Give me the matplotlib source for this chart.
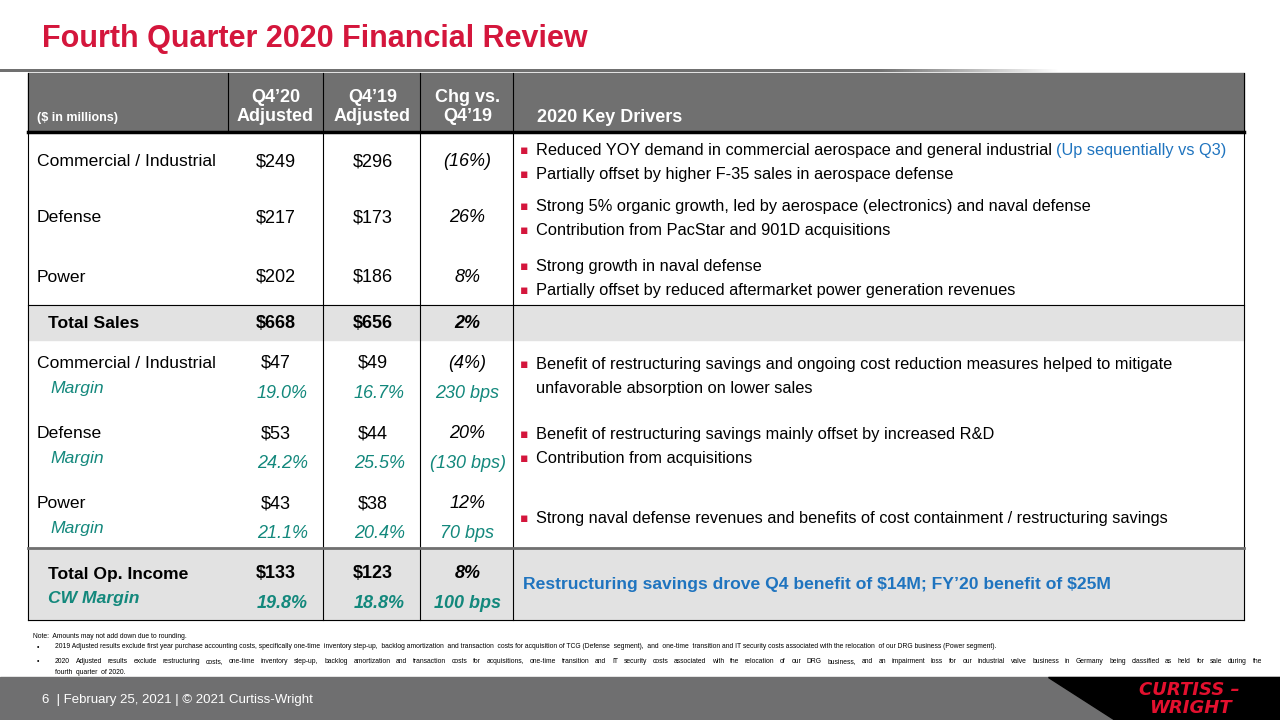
import matplotlib.pyplot as plt
from matplotlib.patches import Rectangle, Polygon
import numpy as np

plt.rcParams['font.family'] = ['Liberation Sans', 'DejaVu Sans']
plt.rcParams['text.parse_math'] = False

# ---- data ----
title = "Fourth Quarter 2020 Financial Review"
units_label = "($ in millions)"
col_headers = ["Q4\u201920\nAdjusted", "Q4\u201919\nAdjusted", "Chg vs.\nQ4\u201919"]
drivers_header = "2020 Key Drivers"

segments = ["Commercial / Industrial", "Defense", "Power"]
sales_q420 = ["$249", "$217", "$202"]
sales_q419 = ["$296", "$173", "$186"]
sales_chg = ["(16%)", "26%", "8%"]
sales_drivers = [
    [("Reduced YOY demand in commercial aerospace and general industrial ", "(Up sequentially vs Q3)"),
     ("Partially offset by higher F-35 sales in aerospace defense", "")],
    [("Strong 5% organic growth, led by aerospace (electronics) and naval defense", ""),
     ("Contribution from PacStar and 901D acquisitions", "")],
    [("Strong growth in naval defense", ""),
     ("Partially offset by reduced aftermarket power generation revenues", "")],
]
total_sales = ["Total Sales", "$668", "$656", "2%"]

oi_q420 = ["$47", "$53", "$43"]
oi_q419 = ["$49", "$44", "$38"]
oi_chg = ["(4%)", "20%", "12%"]
margin_q420 = ["19.0%", "24.2%", "21.1%"]
margin_q419 = ["16.7%", "25.5%", "20.4%"]
margin_chg = ["230 bps", "(130 bps)", "70 bps"]
oi_drivers = [
    ["Benefit of restructuring savings and ongoing cost reduction measures helped to mitigate\nunfavorable absorption on lower sales"],
    ["Benefit of restructuring savings mainly offset by increased R&D", "Contribution from acquisitions"],
    ["Strong naval defense revenues and benefits of cost containment / restructuring savings"],
]
total_oi = ["Total Op. Income", "$133", "$123", "8%"]
total_margin = ["CW Margin", "19.8%", "18.8%", "100 bps"]
total_oi_driver = "Restructuring savings drove Q4 benefit of $14M; FY\u201920 benefit of $25M"

notes = [
    "Note:  Amounts may not add down due to rounding.",
    "2019 Adjusted results exclude first year purchase accounting costs, specifically one-time  inventory step-up,  backlog amortization  and transaction  costs for acquisition of TCG (Defense  segment),  and  one-time  transition and IT security costs associated with the relocation  of our DRG business (Power segment).",
    "2020 Adjusted results exclude restructuring costs, one-time inventory step-up, backlog amortization and transaction costs for acquisitions, one-time transition and IT security costs associated with the relocation of our DRG business, and an impairment loss for our industrial valve business in Germany being classified as held for sale during the",
    "fourth  quarter  of 2020.",
]
footer = "6  | February 25, 2021 | \u00a9 2021 Curtiss-Wright"
logo = ["CURTISS \u2013", "WRIGHT"]

# ---- colours ----
RED = '#d4163c'
HDR = '#707070'
BAND = '#e2e2e2'
TEAL = '#13887c'
BLUE = '#1f74bf'

fig = plt.figure(figsize=(12.8, 7.2), dpi=100)
ax = fig.add_axes([0, 0, 1, 1])
ax.set_xlim(0, 1280)
ax.set_ylim(720, 0)
ax.axis('off')
renderer = fig.canvas.get_renderer()

# title + fading rule
ax.text(42, 39, title, color=RED, fontsize=22, fontweight='bold', va='center', ha='left')
grad = np.ones((1, 400, 4))
grad[..., :3] = 0.44
alpha = np.clip((1060 - np.linspace(0, 1060, 400)) / 180, 0, 1)
grad[..., 3] = alpha
ax.imshow(grad, extent=[0, 1060, 72, 69], aspect='auto', zorder=1)

# table geometry
L, R = 28, 1244
cols = [228, 323, 420, 513]
centers = [(cols[0] + cols[1]) / 2, (cols[1] + cols[2]) / 2 + 1, (cols[2] + cols[3]) / 2 + 1]
hdr_top, hdr_bot = 73, 132
sales_bot, ts_bot, oi_bot, tab_bot = 305, 340, 548, 620

ax.add_patch(Rectangle((L, hdr_top), R - L, hdr_bot - hdr_top, color=HDR, zorder=1))
ax.add_patch(Rectangle((L, sales_bot), R - L, ts_bot - sales_bot, color=BAND, zorder=1))
ax.add_patch(Rectangle((L, oi_bot), R - L, tab_bot - oi_bot, color=BAND, zorder=1))

# grid lines
ax.plot([cols[0], cols[0]], [hdr_top, hdr_bot], color='black', lw=0.8, zorder=2)
for x in cols[1:]:
    ax.plot([x, x], [hdr_top, tab_bot], color='black', lw=0.8, zorder=2)
ax.plot([L, L], [hdr_top, tab_bot], color='black', lw=0.8, zorder=2)
ax.plot([R, R], [hdr_top, tab_bot], color='black', lw=0.8, zorder=2)
ax.plot([L, R], [hdr_bot, hdr_bot], color='black', lw=2.5, zorder=3)
ax.plot([L, R], [sales_bot, sales_bot], color='black', lw=0.8, zorder=3)
ax.plot([L, R], [oi_bot, oi_bot], color=HDR, lw=2, zorder=3)
ax.plot([L, R], [tab_bot, tab_bot], color='black', lw=0.8, zorder=3)

# header text
ax.text(37, 118, units_label, color='white', fontsize=9, fontweight='bold', va='center')
for cx, h in zip(centers, col_headers):
    ax.text(cx, 107, h, color='white', fontsize=13, fontweight='bold', ha='center', va='center',
            linespacing=1.15)
ax.text(537, 118, drivers_header, color='white', fontsize=13, fontweight='bold', va='center')

BODY = 13
LABEL = 12.6
DRV = 11.8


def bullet(x, y, txt, extra=""):
    ax.text(x, y, "\u25aa", color=RED, fontsize=9, va='center', ha='left', family='DejaVu Sans')
    t = ax.text(x + 16, y, txt, color='black', fontsize=DRV, va='center', ha='left')
    if extra:
        ax.annotate(extra, xy=(1, 0), xycoords=t, color=BLUE, fontsize=DRV, va='bottom', ha='left')


# sales rows
sales_y = [162, 218, 277]
for i, y in enumerate(sales_y):
    ax.text(37, y, segments[i], fontsize=LABEL, va='center')
    ax.text(centers[0], y, sales_q420[i], fontsize=BODY, ha='center', va='center')
    ax.text(centers[1], y, sales_q419[i], fontsize=BODY, ha='center', va='center')
    ax.text(centers[2], y, sales_chg[i], fontsize=BODY, ha='center', va='center', style='italic')
    for j, (a, b) in enumerate(sales_drivers[i]):
        bullet(520, y - 11 + 24 * j, a, b)

# total sales
ty = 323
ax.text(48, ty, total_sales[0], fontsize=LABEL, fontweight='bold', va='center')
ax.text(centers[0], ty, total_sales[1], fontsize=BODY, fontweight='bold', ha='center', va='center')
ax.text(centers[1], ty, total_sales[2], fontsize=BODY, fontweight='bold', ha='center', va='center')
ax.text(centers[2], ty, total_sales[3], fontsize=BODY, fontweight='bold', ha='center', va='center',
        style='italic')

# operating income rows
oi_y = [363, 434, 504]
for i, y in enumerate(oi_y):
    ax.text(37, y, segments[i], fontsize=LABEL, va='center')
    ax.text(50, y + 25, "Margin", fontsize=LABEL, va='center', style='italic', color=TEAL)
    ax.text(centers[0], y, oi_q420[i], fontsize=BODY, ha='center', va='center')
    ax.text(centers[1], y, oi_q419[i], fontsize=BODY, ha='center', va='center')
    ax.text(centers[2], y, oi_chg[i], fontsize=BODY, ha='center', va='center', style='italic')
    ax.text(centers[0] + 7, y + 30, margin_q420[i], fontsize=BODY, ha='center', va='center',
            style='italic', color=TEAL)
    ax.text(centers[1] + 7, y + 30, margin_q419[i], fontsize=BODY, ha='center', va='center',
            style='italic', color=TEAL)
    ax.text(centers[2], y + 30, margin_chg[i], fontsize=BODY, ha='center', va='center',
            style='italic', color=TEAL)
drv_y = [[365], [434, 459], [518]]
for i, lines in enumerate(oi_drivers):
    for txt, y in zip(lines, drv_y[i]):
        if "\n" in txt:
            first, second = txt.split("\n")
            bullet(520, y, first)
            ax.text(536, y + 23, second, fontsize=DRV, va='center')
        else:
            bullet(520, y, txt)

# total op income
oy = 574
ax.text(48, oy, total_oi[0], fontsize=LABEL, fontweight='bold', va='center')
ax.text(48, oy + 25, total_margin[0], fontsize=LABEL, fontweight='bold', style='italic', color=TEAL,
        va='center')
for k in range(3):
    ax.text(centers[k], oy - 1, total_oi[k + 1], fontsize=BODY, fontweight='bold', ha='center',
            va='center', style='italic' if k == 2 else 'normal')
    ax.text(centers[k] + (7 if k < 2 else 0), oy + 29, total_margin[k + 1], fontsize=BODY,
            fontweight='bold', ha='center', va='center', style='italic', color=TEAL)
ax.text(523, 585, total_oi_driver, fontsize=12.6, fontweight='bold', color=BLUE, va='center')

# footnotes
NOTE = 4.85


def justified(x0, x1, y, txt, size):
    # spread the words of one line evenly between x0 and x1
    words = txt.split()
    arts = [ax.text(0, y + 2, w, fontsize=size, va='baseline') for w in words]
    inv = ax.transData.inverted()
    widths = []
    for a in arts:
        bb = a.get_window_extent(renderer)
        widths.append(inv.transform((bb.x1, bb.y0))[0] - inv.transform((bb.x0, bb.y0))[0])
    gap = (x1 - x0 - sum(widths)) / (len(words) - 1)
    x = x0
    for a, w in zip(arts, widths):
        a.set_x(x)
        x += w + gap


ax.text(33, 636, notes[0], fontsize=NOTE, va='center')
ax.text(37, 647, "\u2022", fontsize=NOTE, va='center')
ax.text(55, 647, notes[1], fontsize=NOTE, va='center')
ax.text(37, 661, "\u2022", fontsize=NOTE, va='center')
justified(55, 1262, 661, notes[2], NOTE)
ax.text(55, 673, notes[3], fontsize=NOTE, va='center')

# footer band
ax.add_patch(Rectangle((0, 677), 1280, 43, color='#6f6f70', zorder=1))
ax.add_patch(Polygon([(1048, 677), (1280, 677), (1280, 720), (1115, 720)], closed=True,
                     color='black', zorder=2))
ax.text(42, 700, footer, color='white', fontsize=9.5, va='center')
ax.text(1240, 690, logo[0], color='#e3102e', fontsize=13, fontweight='heavy', style='italic',
        ha='right', va='center', family='DejaVu Sans', zorder=3)
ax.text(1232, 708, logo[1], color='#e3102e', fontsize=13, fontweight='heavy', style='italic',
        ha='right', va='center', family='DejaVu Sans', zorder=3)

fig.savefig('out.png', dpi=100)
